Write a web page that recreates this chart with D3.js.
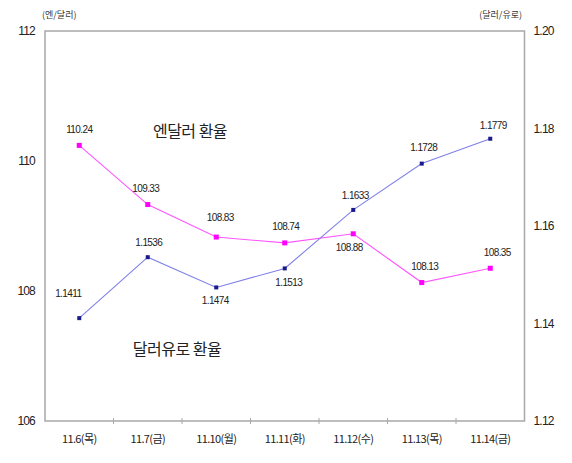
<!DOCTYPE html>
<html><head><meta charset="utf-8">
<script src="https://cdn.jsdelivr.net/npm/d3@7"></script>
<style>
body{margin:0;background:#fff;}
text{font-family:"Liberation Sans",Arial,sans-serif;}
.kr{font-family:"Noto Sans CJK KR","Noto Sans",sans-serif;}
</style></head>
<body><svg id="c" width="572" height="463"></svg>
<script>
const categories = ["11.6(목)","11.7(금)","11.10(월)","11.11(화)","11.12(수)","11.13(목)","11.14(금)"];
const yenDollar = [110.24,109.33,108.83,108.74,108.88,108.13,108.35];
const dollarEuro = [1.1411,1.1536,1.1474,1.1513,1.1633,1.1728,1.1779];
const leftTicks = [112,110,108,106];
const rightTicks = [1.20,1.18,1.16,1.14,1.12];
const yenLabels = ["110.24","109.33","108.83","108.74","108.88","108.13","108.35"];
const euroLabels = ["1.1411","1.1536","1.1474","1.1513","1.1633","1.1728","1.1779"];

const svg = d3.select("#c");
const L=45, R=524.5, T=31, B=421;
const x = d3.scaleBand().domain(categories).range([L,R]);
const yL = d3.scaleLinear().domain([106,112]).range([B,T]);
const yR = d3.scaleLinear().domain([1.12,1.20]).range([B,T]);
const cx = c => x(c)+x.bandwidth()/2;

// frame
svg.append("rect").attr("x",L).attr("y",T).attr("width",R-L).attr("height",B-T)
  .attr("fill","none").attr("stroke","#a8a8a8").attr("stroke-width",1.5);

// bottom axis
const xAxis = svg.append("g").attr("transform",`translate(0,${B})`)
  .call(d3.axisBottom(x).tickSize(0).tickPadding(14));
xAxis.select(".domain").remove();
xAxis.selectAll("text").attr("class","kr").attr("font-size",11).attr("fill","#222").attr("letter-spacing","-0.6");
// boundary ticks
svg.append("g").selectAll("line").data(categories.slice(1)).join("line")
  .attr("x1",d=>x(d)).attr("x2",d=>x(d)).attr("y1",B-3).attr("y2",B+3)
  .attr("stroke","#a8a8a8");

// left axis
const la = svg.append("g").attr("transform",`translate(${L},0)`)
  .call(d3.axisLeft(yL).tickValues(leftTicks).tickSize(0).tickPadding(10).tickFormat(d3.format("d")));
la.select(".domain").remove();
la.selectAll("text").attr("font-size",12).attr("fill","#222").attr("letter-spacing","-0.8");
// right axis
const ra = svg.append("g").attr("transform",`translate(${R},0)`)
  .call(d3.axisRight(yR).tickValues(rightTicks).tickSize(0).tickPadding(9).tickFormat(d3.format(".2f")));
ra.select(".domain").remove();
ra.selectAll("text").attr("font-size",12).attr("fill","#222").attr("letter-spacing","-0.8");

// unit labels
svg.append("text").attr("class","kr").attr("x",42).attr("y",18).attr("font-size",9).attr("fill","#333").text("(엔/달러)");
svg.append("text").attr("class","kr").attr("x",522).attr("y",18).attr("text-anchor","end").attr("font-size",9).attr("fill","#333").text("(달러/유로)");

// series lines
const lineY = d3.line().x((d,i)=>cx(categories[i])).y(d=>yL(d));
const lineE = d3.line().x((d,i)=>cx(categories[i])).y(d=>yR(d));
svg.append("path").attr("d",lineY(yenDollar)).attr("fill","none").attr("stroke","#ff55ff").attr("stroke-width",1.1);
svg.append("path").attr("d",lineE(dollarEuro)).attr("fill","none").attr("stroke","#8080e8").attr("stroke-width",1.1);

svg.append("g").selectAll("rect").data(yenDollar).join("rect")
  .attr("x",(d,i)=>cx(categories[i])-2.5).attr("y",d=>yL(d)-2.5).attr("width",5).attr("height",5).attr("fill","#ff00ff");
svg.append("g").selectAll("rect").data(dollarEuro).join("rect")
  .attr("x",(d,i)=>cx(categories[i])-2).attr("y",d=>yR(d)-2).attr("width",4).attr("height",4).attr("fill","#1a1a8c");

// value labels
const yenPlace = [-12,-13,-16,-13,17,-13,-12];
const yenDx = [0,-2,4,1,-4,3,7];
const euroPlace = [-21,-11,17,18,-11,-13,-10];
const euroDx = [-11,1,-1,4,2,2,3];
svg.append("g").selectAll("text").data(yenLabels).join("text")
  .attr("x",(d,i)=>cx(categories[i])+yenDx[i]).attr("y",(d,i)=>yL(yenDollar[i])+yenPlace[i])
  .attr("text-anchor","middle").attr("font-size",10).attr("letter-spacing","-0.6").attr("fill","#222").text(d=>d);
svg.append("g").selectAll("text").data(euroLabels).join("text")
  .attr("x",(d,i)=>cx(categories[i])+euroDx[i]).attr("y",(d,i)=>yR(dollarEuro[i])+euroPlace[i])
  .attr("text-anchor","middle").attr("font-size",10).attr("letter-spacing","-0.6").attr("fill","#222").text(d=>d);

// series names
svg.append("text").attr("class","kr").attr("x",190).attr("y",137).attr("text-anchor","middle")
  .attr("font-size",16).attr("fill","#222").attr("letter-spacing","-0.5").text("엔달러 환율");
svg.append("text").attr("class","kr").attr("x",177).attr("y",355).attr("text-anchor","middle")
  .attr("font-size",16).attr("fill","#222").attr("letter-spacing","-0.5").text("달러유로 환율");
</script></body></html>
